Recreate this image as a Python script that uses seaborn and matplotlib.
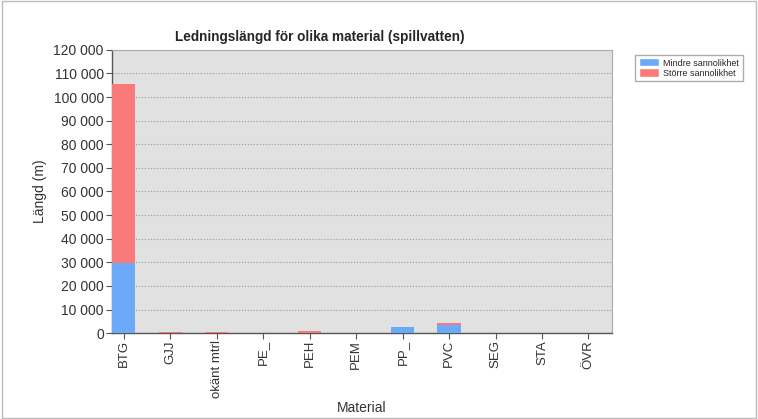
import pandas as pd
import numpy as np
import matplotlib
matplotlib.use("Agg")
import matplotlib.pyplot as plt
import seaborn as sns
from matplotlib.ticker import FuncFormatter
from matplotlib.patches import Patch

# Data
material = ['BTG', 'GJJ', 'okänt mtrl', 'PE_', 'PEH', 'PEM', 'PP_', 'PVC', 'SEG', 'STA', 'ÖVR']
mindre = [29700, 0, 0, 0, 0, 0, 2700, 3400, 0, 0, 0]
storre = [75900, 400, 400, 0, 700, 0, 0, 1000, 0, 0, 0]

df = pd.DataFrame({'Material': material, 'Mindre': mindre, 'Storre': storre})
df['Total'] = df['Mindre'] + df['Storre']

sns.set_style("white")
plt.rcParams['font.family'] = ['Liberation Sans', 'DejaVu Sans']

blue = '#6aaaf8'
red = '#f87a7a'

fig = plt.figure(figsize=(7.58, 4.19), dpi=100)
ax = fig.add_axes([0.148, 0.205, 0.659, 0.676])
ax.set_facecolor('#e1e1e1')

# Stacked: total first (red), then the lower part (blue) on top
sns.barplot(data=df, x='Material', y='Total', color=red, width=0.5,
            saturation=1, ax=ax, zorder=3, linewidth=0)
sns.barplot(data=df, x='Material', y='Mindre', color=blue, width=0.5,
            saturation=1, ax=ax, zorder=3, linewidth=0)

ax.set_ylim(0, 120000)
ax.set_xlim(-0.25, 10.5)
ax.set_yticks(np.arange(0, 120001, 10000))
ax.yaxis.set_major_formatter(FuncFormatter(lambda v, p: f"{int(v):,}".replace(',', ' ')))
ax.grid(axis='y', color='#999999', linestyle=':', linewidth=0.8, zorder=0)
ax.set_axisbelow(True)

for s in ['top', 'right']:
    ax.spines[s].set_color('#aaaaaa')
    ax.spines[s].set_linewidth(0.8)
for s in ['left', 'bottom']:
    ax.spines[s].set_color('#555555')
    ax.spines[s].set_linewidth(1.0)

ax.tick_params(axis='y', labelsize=10, length=4, pad=2, color='#555555', left=True, labelcolor='#333333')
ax.tick_params(axis='x', labelsize=9.5, length=4, pad=1, color='#555555', bottom=True, labelcolor='#333333')
plt.setp(ax.get_xticklabels(), rotation=90)

ax.set_xlabel('Material', fontsize=10, color='#333333', labelpad=2)
ax.set_ylabel('Längd (m)', fontsize=10, color='#333333', labelpad=5)
fig.text(0.422, 0.912, 'Ledningslängd för olika material (spillvatten)', fontsize=9.8,
         fontweight='bold', ha='center', va='center')

handles = [Patch(facecolor=blue, label='Mindre sannolikhet'),
           Patch(facecolor=red, label='Större sannolikhet')]
fig.legend(handles=handles, loc='upper left', bbox_to_anchor=(0.832, 0.88),
           fontsize=6.5, frameon=True, fancybox=False, edgecolor='#999999',
           handlelength=2.2, handleheight=1.0, borderpad=0.4, labelspacing=0.1,
           handletextpad=0.5)

# outer frame
fig.patches.append(plt.Rectangle((0.002, 0.002), 0.996, 0.996, transform=fig.transFigure,
                                 fill=False, edgecolor='#bbbbbb', linewidth=1))

fig.savefig('out.png', dpi=100)
